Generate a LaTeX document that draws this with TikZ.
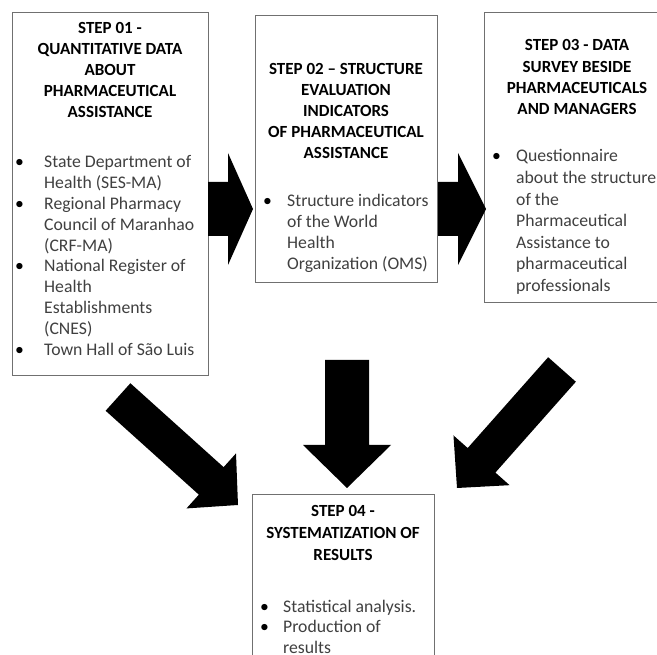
\documentclass[tikz,border=0pt]{standalone}
\usepackage{fontspec}
\setmainfont{Carlito}
\usetikzlibrary{calc}
\definecolor{bodytext}{HTML}{404040}
\definecolor{boxline}{HTML}{707070}
\newcommand\bl[1]{\makebox[#1][l]{\color{black}\textbullet}}
\newcommand\cl[1]{\hspace*{#1}}
% #1 tail, #2 tip, #3 half shaft width, #4 half head width, #5 head length
\newcommand\blockarrow[5]{%
  \path ($(#2)!#5!(#1)$) coordinate (bam);
  \fill[arrowfill] ($(#1)!#3!90:(#2)$) -- ($(bam)!#3!90:(#2)$) -- ($(bam)!#4!90:(#2)$)
    -- (#2) -- ($(bam)!#4!-90:(#2)$) -- ($(bam)!#3!-90:(#2)$) -- ($(#1)!#3!-90:(#2)$) -- cycle;}
\begin{document}
\begin{tikzpicture}[x=1pt,y=-1pt,
  stepbox/.style={draw=boxline, line width=1pt, fill=white, inner sep=0pt},
  head/.style={anchor=base, inner sep=0pt, font=\fontsize{17}{#1}\selectfont\bfseries},
  head/.default=20.8,
  items/.style={anchor=base west, inner sep=0pt, text=bodytext, font=\fontsize{17.7}{#1}\selectfont},
  items/.default=20.8,
  arrowfill/.style={fill=black}]
\useasboundingbox (0,0) rectangle (657,655);
\clip (0,0) rectangle (657,655);
% boxes
\node[stepbox, minimum width=196, minimum height=363] (s1) at (110,194.5) {};
\node[stepbox, minimum width=182, minimum height=267] (s2) at (346,149.5) {};
\node[stepbox, minimum width=186, minimum height=290] (s3) at (577,158) {};
\node[stepbox, minimum width=182, minimum height=185] (s4) at (343,587.5) {};
% arrow end points
\coordinate (a1t) at (208,209);  \coordinate (a1h) at (253,209);
\coordinate (a2t) at (438,209);  \coordinate (a2h) at (486,209);
\coordinate (a3t) at (347,360);  \coordinate (a3h) at (347,488);
\coordinate (a4t) at (118,397);  \coordinate (a4h) at (238,505);
\coordinate (a5t) at (562,369.5);\coordinate (a5h) at (457,488);
\blockarrow{a1t}{a1h}{27pt}{56pt}{25pt}
\blockarrow{a2t}{a2h}{27pt}{56pt}{28pt}
\blockarrow{a3t}{a3h}{22pt}{44pt}{43pt}
\blockarrow{a4t}{a4h}{18.5pt}{37pt}{36pt}
\blockarrow{a5t}{a5h}{18.5pt}{37.5pt}{37pt}
% headings
\node[head=20.9] (h1) at (110,34) {\begin{tabular}[t]{@{}c@{}}STEP 01 -\\ QUANTITATIVE DATA\\ ABOUT\\ PHARMACEUTICAL\\ ASSISTANCE\end{tabular}};
\node[head=21] (h2) at (346,75) {\begin{tabular}[t]{@{}c@{}}STEP 02 – STRUCTURE\\ EVALUATION\\ INDICATORS\\ OF PHARMACEUTICAL\\ ASSISTANCE\end{tabular}};
\node[head=21.3] (h3) at (577,51) {\begin{tabular}[t]{@{}c@{}}STEP 03 - DATA\\ SURVEY BESIDE\\ PHARMACEUTICALS\\ AND MANAGERS\end{tabular}};
\node[head=21.7] (h4) at (343,517) {\begin{tabular}[t]{@{}c@{}}STEP 04 -\\ SYSTEMATIZATION OF\\ RESULTS\end{tabular}};
% bullet lists
\node[items] (l1) at (15,168) {\begin{tabular}[t]{@{}l@{}}\bl{29pt}State Department of\\ \cl{29pt}Health (SES-MA)\\ \bl{29pt}Regional Pharmacy\\ \cl{29pt}Council of Maranhao\\ \cl{29pt}(CRF-MA)\\ \bl{29pt}National Register of\\ \cl{29pt}Health\\ \cl{29pt}Establishments\\ \cl{29pt}(CNES)\\ \bl{29pt}Town Hall of São Luis\end{tabular}};
\node[items=21] (l2) at (263,207) {\begin{tabular}[t]{@{}l@{}}\bl{24pt}Structure indicators\\ \cl{24pt}of the World\\ \cl{24pt}Health\\ \cl{24pt}Organization (OMS)\end{tabular}};
\node[items=21.6] (l3) at (492,162) {\begin{tabular}[t]{@{}l@{}}\bl{24pt}Questionnaire\\ \cl{24pt}about the structure\\ \cl{24pt}of the\\ \cl{24pt}Pharmaceutical\\ \cl{24pt}Assistance to\\ \cl{24pt}pharmaceutical\\ \cl{24pt}professionals\end{tabular}};
\node[items=20.5] (l4) at (260,612) {\begin{tabular}[t]{@{}l@{}}\bl{23pt}Statistical analysis.\\ \bl{23pt}Production of\\ \cl{23pt}results\end{tabular}};
\end{tikzpicture}
\end{document}
